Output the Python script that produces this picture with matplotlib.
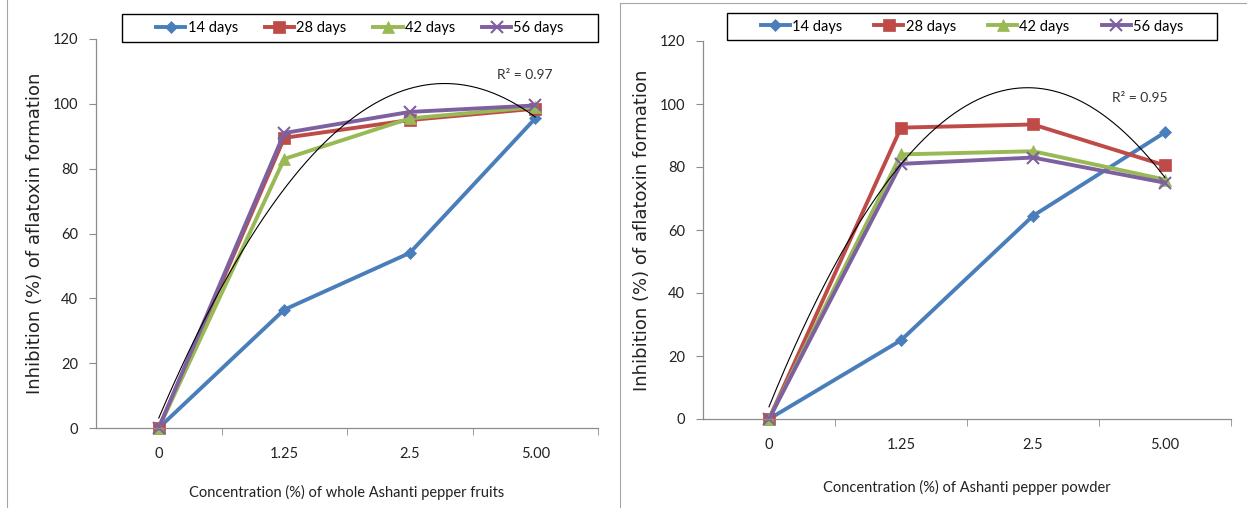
import numpy as np
import matplotlib
matplotlib.use("Agg")
import matplotlib.pyplot as plt
from matplotlib.lines import Line2D
from matplotlib.patches import Rectangle

# Data
concentrations = ["0", "1.25", "2.5", "5.00"]
series_names = ["14 days", "28 days", "42 days", "56 days"]

fruits_14 = [0, 36.5, 54, 95.5]
fruits_28 = [0, 89.5, 95, 98.5]
fruits_42 = [0, 83, 95.5, 99]
fruits_56 = [0, 91, 97.5, 99.5]

powder_14 = [0, 25, 64.5, 91]
powder_28 = [0, 92.5, 93.5, 80.5]
powder_42 = [0, 84, 85, 76]
powder_56 = [0, 81, 83, 75]

colors = ["#4A7EBB", "#BE4B48", "#98B954", "#7D60A0"]
markers = ["D", "s", "^", "x"]
msizes = [6, 8, 8, 8]

plt.rcParams["font.family"] = ["Lato", "DejaVu Sans"]

W, H = 1247, 508
fig = plt.figure(figsize=(W / 100, H / 100), dpi=100)

# thin frames of the two pasted chart pictures
frame = "#A6A6A6"
fig.add_artist(Line2D([7 / W, 7 / W], [0, 1], color=frame, lw=0.8))
fig.add_artist(Line2D([620 / W, 620 / W], [0, 1 - 3 / H], color=frame, lw=0.8))
fig.add_artist(Line2D([620 / W, 1], [1 - 3 / H, 1 - 3 / H], color=frame, lw=0.8))


def draw_panel(rect, data, fit_series, r2_text, r2_pos, xlabel, xpad, box, colsp):
    ax = fig.add_axes(rect)
    x = np.arange(len(concentrations))
    for vals, name, c, m, ms in zip(data, series_names, colors, markers, msizes):
        ax.plot(x, vals, color=c, lw=2.8, marker=m, markersize=ms,
                markeredgewidth=1.5 if m == "x" else 0.5, markeredgecolor=c,
                label=name, clip_on=False)

    # second order polynomial trendline, as in the source
    coef = np.polyfit(x, fit_series, 2)
    xs = np.linspace(0, 3, 200)
    ax.plot(xs, np.polyval(coef, xs), color="black", lw=0.8, clip_on=False)
    ax.text(r2_pos[0], r2_pos[1], r2_text, fontsize=10, ha="center", va="center",
            color="#333333")

    ax.set_xlim(-0.5, 3.5)
    ax.set_ylim(0, 120)
    ax.set_yticks(range(0, 121, 20))
    ax.set_xticks(x)
    ax.set_xticklabels(concentrations)
    ax.set_xticks([0.5, 1.5, 2.5, 3.5], minor=True)
    ax.tick_params(axis="x", which="major", length=0, pad=14, labelsize=10.5,
                   labelcolor="#222222")
    ax.tick_params(axis="x", which="minor", length=5, color="#8C8C8C", direction="out")
    ax.tick_params(axis="y", length=5, color="#8C8C8C", labelsize=10.5,
                   labelcolor="#222222", pad=8)
    for s in ["top", "right"]:
        ax.spines[s].set_visible(False)
    for s in ["left", "bottom"]:
        ax.spines[s].set_color("#8C8C8C")
        ax.spines[s].set_linewidth(0.9)

    ax.set_ylabel("Inhibition (%) of aflatoxin formation", fontsize=13,
                  family=["DejaVu Sans"], color="#222222", labelpad=6)
    ax.set_xlabel(xlabel, fontsize=10.5, color="#222222", labelpad=xpad)

    # legend box drawn separately, entries centred inside it
    x0, y0, x1, y1 = box
    fig.add_artist(Rectangle((x0 / W, 1 - y1 / H), (x1 - x0) / W, (y1 - y0) / H,
                             fill=False, edgecolor="black", lw=1.0,
                             transform=fig.transFigure))
    handles, labels = ax.get_legend_handles_labels()
    fig.legend(handles, labels, loc="center",
               bbox_to_anchor=((x0 + x1) / 2 / W, 1 - (y0 + y1) / 2 / H),
               ncol=4, frameon=False, fontsize=10.5,
               handlelength=2.0, handletextpad=0.15, columnspacing=colsp)
    return ax


left_rect = [96 / W, 1 - 428 / H, (598 - 96) / W, (428 - 39) / H]
right_rect = [703 / W, 1 - 419 / H, (1231 - 703) / W, (419 - 41) / H]

draw_panel(left_rect, [fruits_14, fruits_28, fruits_42, fruits_56], fruits_42,
           "R\u00b2 = 0.97", (2.92, 109),
           "Concentration (%) of whole Ashanti pepper fruits", 17,
           (122, 14, 598, 42), 1.85)
draw_panel(right_rect, [powder_14, powder_28, powder_42, powder_56], powder_28,
           "R\u00b2 = 0.95", (2.81, 102),
           "Concentration (%) of Ashanti pepper powder", 20,
           (727, 13, 1217, 40), 2.2)

fig.savefig("out.png", dpi=100)
